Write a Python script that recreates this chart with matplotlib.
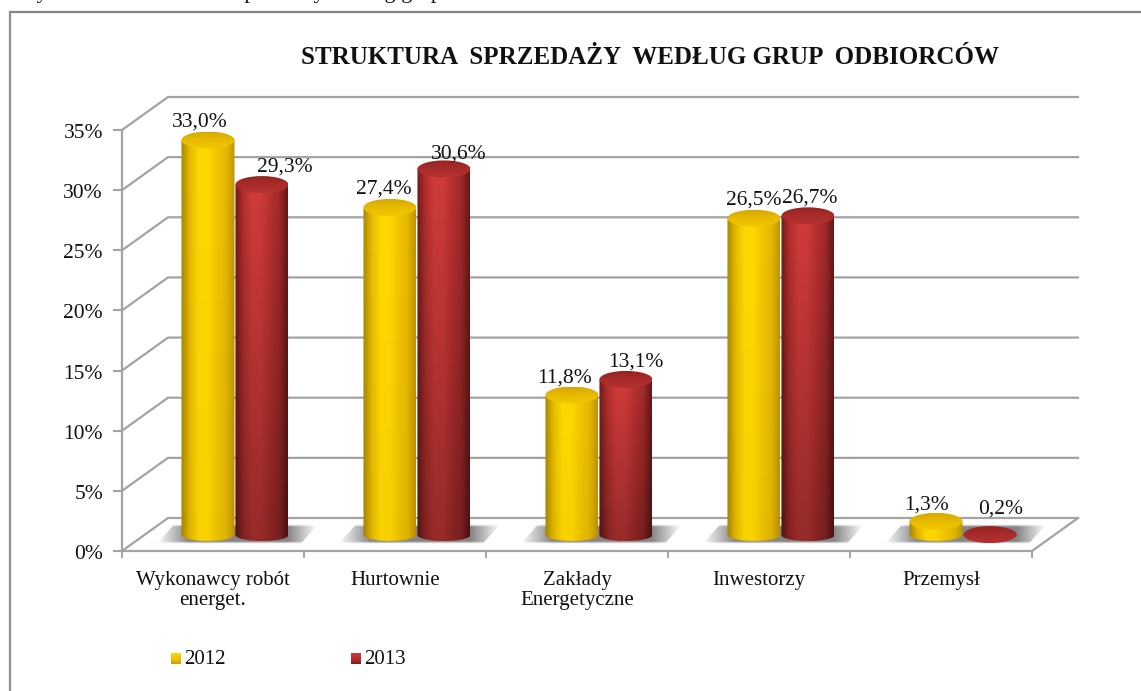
import matplotlib
matplotlib.use("Agg")
import matplotlib.pyplot as plt
from matplotlib.colors import LinearSegmentedColormap
from matplotlib.patches import Ellipse, Polygon
from matplotlib.path import Path
import numpy as np

plt.rcParams['font.family'] = ['Liberation Serif', 'DejaVu Serif']

# Values
categories = ["Wykonawcy robót\nenerget.", "Hurtownie", "Zakłady\nEnergetyczne", "Inwestorzy", "Przemysł"]
values_2012 = [33.0, 27.4, 11.8, 26.5, 1.3]
values_2013 = [29.3, 30.6, 13.1, 26.7, 0.2]
y_ticks = [0, 5, 10, 15, 20, 25, 30, 35]
years = ["2012", "2013"]
title = "STRUKTURA  SPRZEDAŻY  WEDŁUG GRUP  ODBIORCÓW"

# label nudges in pixels (the original labels were placed by hand)
nudge_2012 = [-8, -6, -7, 0, -9]
nudge_2013 = [23, 15, 10, 2, 11]
lift_2012 = [18, 18, 17, 18, 16]
lift_2013 = [18, 15, 17, 18, 26]

W, H = 1141, 691
# pixel position of the front plane
X0, X5 = 122, 1032
Y0, Y35 = 551, 130

GRID = "#a3a3a3"
TEXT = "#111111"

fig = plt.figure(figsize=(W / 100, H / 100), dpi=100)
ax = fig.add_axes([0, 0, 1, 1])
px_x = (X5 - X0) / 5
px_y = (Y0 - Y35) / 35
ax.axis("off")

DEPTH_X = 46 / px_x
DEPTH_Y = 33 / px_y
ELL_H = 17 / px_y
ARC_H = 12 / px_y
BAR_W = 53 / px_x
BASE_Y = 14 / px_y
SIDE_Y = 16 / px_y


def to_x(p):
    return (p - X0) / px_x


def to_y(p):
    return (Y0 - p) / px_y


def gradient(stops):
    return LinearSegmentedColormap.from_list("c", stops)


yellow_map = gradient(["#a88500", "#e6bb00", "#ffd800", "#ffd700", "#f2c600", "#e6b800", "#bd9400"])
red_map = gradient(["#701b1b", "#b5302f", "#d03c3a", "#cf3b39", "#b83130", "#a32a2a", "#651818"])
yellow_top = gradient(["#d6a800", "#e8bb00", "#f2c800"])
red_top = gradient(["#96241f", "#a92b2b", "#b53030"])


def draw_cylinder(xc, val, cmap, top_map, fade_to, z):
    left, right = xc - BAR_W / 2, xc + BAR_W / 2
    top = BASE_Y + val
    # body outline: straight sides, elliptic bottom
    t = np.linspace(np.pi, 2 * np.pi, 40)
    xs = xc + BAR_W / 2 * np.cos(t)
    ys = SIDE_Y + ARC_H / 2 * np.sin(t)
    verts = [(left, top)] + list(zip(xs, ys)) + [(right, top), (left, top)]
    clip = Path(verts)
    grad = np.linspace(0, 1, 256).reshape(1, -1)
    bottom = SIDE_Y - ARC_H
    im = ax.imshow(grad, extent=(left, right, bottom, top), cmap=cmap, aspect="auto",
                   zorder=z, interpolation="bilinear")
    im.set_clip_path(clip, ax.transData)
    # darker towards the floor
    fade = np.zeros((128, 1, 4))
    fade[..., 3] = np.linspace(0, fade_to, 128).reshape(-1, 1)
    im2 = ax.imshow(fade, extent=(left, right, bottom, top), aspect="auto", zorder=z + 0.1)
    im2.set_clip_path(clip, ax.transData)
    # top cap
    cap = Ellipse((xc, top), BAR_W, ELL_H, transform=ax.transData)
    im3 = ax.imshow(np.linspace(0, 1, 64).reshape(-1, 1),
                    extent=(left, right, top - ELL_H / 2, top + ELL_H / 2),
                    cmap=top_map, aspect="auto", zorder=z + 0.2)
    im3.set_clip_path(cap)


def draw_shadow(xj, z=2):
    # soft floor shadow behind a pair of bars, xj is where the bars meet
    x0, x1 = xj - 78 / px_x, xj + 84 / px_x
    y0, y1 = to_y(544), to_y(524)
    a = np.zeros((24, 160, 4))
    a[..., :3] = 0.5
    sx = np.linspace(0, 1, 160)
    sy = np.linspace(0, 1, 24)
    ax_ramp = np.minimum(1, np.minimum(sx * 5, (1 - sx) * 5.5))
    ay_ramp = np.minimum(1, np.minimum(sy * 8, (1 - sy) * 8))
    a[..., 3] = 0.95 * np.outer(ay_ramp, ax_ramp)
    im = ax.imshow(a, extent=(x0, x1, y0, y1), aspect="auto", zorder=z, interpolation="bilinear")
    im.set_clip_path(Polygon([(x0, y0), (x1 - 18 / px_x, y0), (x1, y1), (x0 + 18 / px_x, y1)],
                             transform=ax.transData))


# page text cut off by the top edge, only its descenders show
ax.text(to_x(18), to_y(-2), "Wy", ha="left", va="baseline", fontsize=16, color=TEXT)
ax.text(to_x(236), to_y(-2), "sprzedaży według grup", ha="left", va="baseline", fontsize=16, color=TEXT)

# outer frame: only top and left edges are inside the crop
ax.plot([to_x(10), to_x(W)], [to_y(12), to_y(12)], color="#858585", lw=1.6, zorder=0)
ax.plot([to_x(10), to_x(10)], [to_y(12), to_y(H)], color="#8f8f8f", lw=1.6, zorder=0)

# gridlines on the wall and side wall
n = len(categories)
for v in y_ticks:
    ax.plot([0, DEPTH_X, n + DEPTH_X], [v, v + DEPTH_Y, v + DEPTH_Y], color=GRID, lw=1.6, zorder=1,
            solid_joinstyle="miter")
    ax.plot([-8 / px_x, 0], [v, v], color=GRID, lw=1.5, zorder=1)
    ax.text(-19 / px_x, v - 3.5 / px_y, f"{v}%", ha="right", va="center", fontsize=15.5, color=TEXT)

# floor and axis edges
ax.plot([0, 0], [0, 35], color=GRID, lw=1.6, zorder=1)
ax.plot([0, n, n + DEPTH_X], [0, 0, DEPTH_Y], color=GRID, lw=1.6, zorder=1)
for i in range(n + 1):
    ax.plot([i, i], [0, -6 / px_y], color=GRID, lw=1.4, zorder=1)

# bars
for i in range(n):
    xj = i + 0.618
    xa = xj - BAR_W / 2
    xb = xj + BAR_W / 2 + 1 / px_x
    draw_shadow(xj)
    draw_cylinder(xb, values_2013[i], red_map, red_top, 0.28, 4)
    draw_cylinder(xa, values_2012[i], yellow_map, yellow_top, 0.03, 5)
    ax.text(xa + nudge_2012[i] / px_x, BASE_Y + values_2012[i] + lift_2012[i] / px_y,
            f"{values_2012[i]:.1f}%".replace(".", ","),
            ha="center", va="center", fontsize=15.5, color=TEXT, zorder=8)
    ax.text(xb + nudge_2013[i] / px_x, BASE_Y + values_2013[i] + lift_2013[i] / px_y,
            f"{values_2013[i]:.1f}%".replace(".", ","),
            ha="center", va="center", fontsize=15.5, color=TEXT, zorder=8)
    ax.text(i + 0.5, to_y(571), categories[i], ha="center", va="top", fontsize=15,
            color=TEXT, linespacing=1.1)

# title
ax.text(to_x(650), to_y(57), title, ha="center", va="center", fontsize=18, fontweight="bold", color=TEXT)

# legend
leg_x = [to_x(176), to_x(356)]
for lx, yr, cm in zip(leg_x, years, [yellow_map, red_map]):
    ax.imshow(np.linspace(0.5, 0.95, 16).reshape(-1, 1), vmin=0, vmax=1,
              extent=(lx - 5 / px_x, lx + 5 / px_x, to_y(664), to_y(653)),
              cmap=cm, aspect="auto", zorder=3)
    ax.text(lx + 8 / px_x, to_y(659), yr, ha="left", va="center", fontsize=15, color=TEXT)

# imshow resets the limits, so they go last
ax.set_xlim(-X0 / px_x, (W - X0) / px_x)
ax.set_ylim((Y0 - H) / px_y, Y0 / px_y)
fig.savefig("out.png", dpi=100, facecolor="white")
